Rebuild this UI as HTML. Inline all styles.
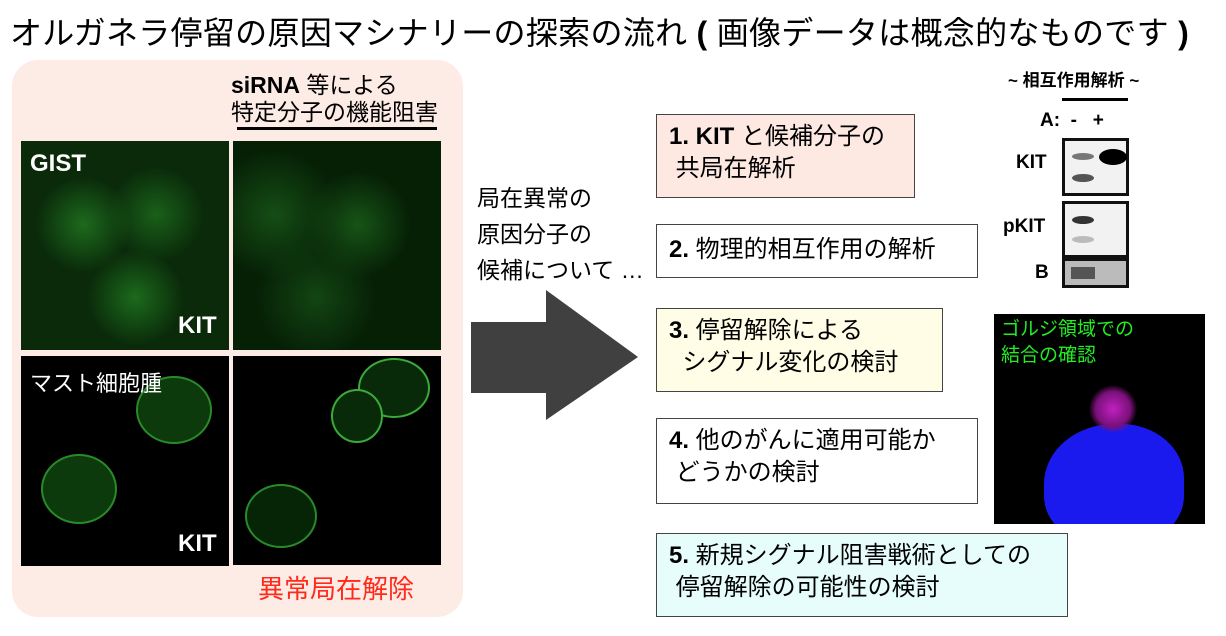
<!DOCTYPE html>
<html><head><meta charset="utf-8"><style>
body{margin:0;width:1226px;height:636px;background:#fff;position:relative;overflow:hidden;font-family:"Liberation Sans","Noto Sans CJK JP",sans-serif;}
.a{position:absolute;}
.img{position:absolute;background:#000;overflow:hidden;}
.box{position:absolute;border:1px solid #444;font-size:24px;line-height:32px;padding:6px 12px;box-sizing:border-box;color:#000;white-space:nowrap;}
.wb{position:absolute;border:3px solid #111;background:#f2f2f2;box-sizing:border-box;}
</style></head><body>
<div class="a" style="left:10px;top:8px;font-size:32px;white-space:nowrap;letter-spacing:0.3px;">オルガネラ停留の原因マシナリーの探索の流れ <b>(</b> 画像データは概念的なものです <b>)</b></div>
<div class="a" style="left:12px;top:60px;width:451px;height:557px;background:#fdebe5;border-radius:26px;"></div>
<div class="a" style="left:231px;top:72px;font-size:23px;line-height:27px;white-space:nowrap;"><b>siRNA</b> 等による<br>特定分子の機能阻害</div>
<div class="a" style="left:237px;top:127px;width:200px;height:3px;background:#000;"></div>
<div class="img" style="left:21px;top:141px;width:208px;height:209px;background:radial-gradient(circle at 30% 40%,#1d6a1d 0,transparent 25%),radial-gradient(circle at 65% 35%,#1a601a 0,transparent 25%),radial-gradient(circle at 55% 75%,#1c6a1c 0,transparent 25%),#0a2a0a;"></div>
<div class="a" style="left:30px;top:150px;color:#fff;font-weight:bold;font-size:24px;">GIST</div>
<div class="a" style="left:178px;top:312px;color:#fff;font-weight:bold;font-size:24px;">KIT</div>
<div class="img" style="left:233px;top:141px;width:208px;height:209px;background:radial-gradient(circle at 20% 35%,#154d15 0,transparent 30%),radial-gradient(circle at 60% 40%,#175417 0,transparent 30%),radial-gradient(circle at 40% 75%,#134513 0,transparent 30%),#062006;"></div>
<div class="img" style="left:21px;top:356px;width:208px;height:210px;">
<div class="a" style="left:115px;top:20px;width:72px;height:64px;border-radius:50%;border:2px solid #2a8a2a;background:#0c3a0c;"></div>
<div class="a" style="left:20px;top:98px;width:72px;height:66px;border-radius:50%;border:2px solid #2a8a2a;background:#0c3a0c;"></div></div>
<div class="a" style="left:30px;top:366px;color:#fff;font-size:22px;">マスト細胞腫</div>
<div class="a" style="left:178px;top:530px;color:#fff;font-weight:bold;font-size:24px;">KIT</div>
<div class="img" style="left:233px;top:356px;width:208px;height:209px;">
<div class="a" style="left:125px;top:2px;width:68px;height:56px;border-radius:50%;border:2px solid #3aaa3a;background:#082a08;"></div>
<div class="a" style="left:98px;top:33px;width:48px;height:50px;border-radius:50%;border:2px solid #3aaa3a;background:#082a08;"></div>
<div class="a" style="left:12px;top:128px;width:68px;height:60px;border-radius:50%;border:2px solid #2a8a2a;background:#062406;"></div></div>
<div class="a" style="left:258px;top:569px;color:#ff2a1a;font-size:26px;">異常局在解除</div>
<div class="a" style="left:477px;top:180px;font-size:23px;line-height:36px;white-space:nowrap;">局在異常の<br>原因分子の<br>候補について …</div>
<svg class="a" style="left:468px;top:285px" width="175" height="140"><polygon points="3,37 78,37 78,5 170,72 78,135 78,108 3,108" fill="#404040"/></svg>
<div class="box" style="left:656px;top:114px;width:259px;height:84px;background:#fde8e2;"><b>1. KIT</b> と候補分子の<br>&nbsp;共局在解析</div>
<div class="box" style="left:656px;top:224px;width:322px;height:54px;padding-top:9px;"><b>2.</b> 物理的相互作用の解析</div>
<div class="box" style="left:656px;top:308px;width:287px;height:84px;background:#fffde6;"><b>3.</b> 停留解除による<br>&nbsp;&nbsp;シグナル変化の検討</div>
<div class="box" style="left:656px;top:418px;width:322px;height:86px;"><b>4.</b> 他のがんに適用可能か<br>&nbsp;どうかの検討</div>
<div class="box" style="left:656px;top:533px;width:412px;height:84px;background:#e6fdfc;"><b>5.</b> 新規シグナル阻害戦術としての<br>&nbsp;停留解除の可能性の検討</div>
<div class="a" style="left:1008px;top:66px;font-size:17px;font-weight:bold;">~ 相互作用解析 ~</div>
<div class="a" style="left:1062px;top:98px;width:66px;height:3px;background:#000;"></div>
<div class="a" style="left:1040px;top:110px;font-size:19px;font-weight:bold;">A:&nbsp; -&nbsp;&nbsp; +</div>
<div class="a" style="left:1016px;top:152px;font-size:19px;font-weight:bold;">KIT</div>
<div class="a" style="left:1003px;top:216px;font-size:19px;font-weight:bold;">pKIT</div>
<div class="a" style="left:1035px;top:262px;font-size:19px;font-weight:bold;">B</div>
<div class="wb" style="left:1062px;top:138px;width:67px;height:58px;">
<div class="a" style="left:7px;top:12px;width:22px;height:7px;background:#777;border-radius:50%;"></div>
<div class="a" style="left:7px;top:33px;width:22px;height:8px;background:#555;border-radius:50%;"></div>
<div class="a" style="left:34px;top:8px;width:28px;height:16px;background:#000;border-radius:50%;"></div></div>
<div class="wb" style="left:1062px;top:201px;width:67px;height:57px;">
<div class="a" style="left:7px;top:12px;width:22px;height:8px;background:#333;border-radius:50%;"></div>
<div class="a" style="left:7px;top:32px;width:22px;height:7px;background:#bbb;border-radius:50%;"></div></div>
<div class="wb" style="left:1062px;top:258px;width:67px;height:30px;background:#bbb;">
<div class="a" style="left:6px;top:6px;width:24px;height:12px;background:#555;"></div></div>
<div class="img" style="left:994px;top:314px;width:211px;height:210px;">
<div class="a" style="left:50px;top:110px;width:140px;height:120px;border-radius:50% 45% 40% 40%;background:#1a1aee;"></div>
<div class="a" style="left:95px;top:70px;width:48px;height:50px;border-radius:40%;background:radial-gradient(circle,#c020c0 0,#7a107a 50%,transparent 70%);"></div>
<div class="a" style="left:7px;top:3px;color:#22ee22;font-size:19px;line-height:26px;">ゴルジ領域での<br>結合の確認</div></div>
</body></html>
